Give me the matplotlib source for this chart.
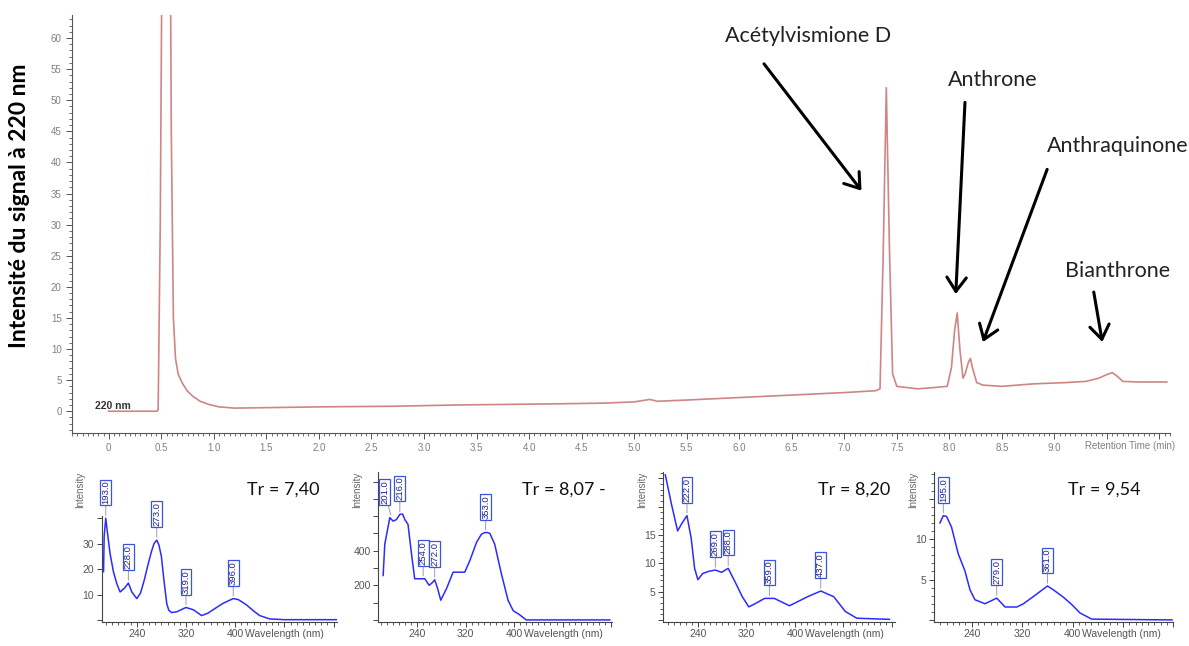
import numpy as np
import matplotlib
matplotlib.use("Agg")
import matplotlib.pyplot as plt
from matplotlib.ticker import MultipleLocator, FixedLocator

plt.rcParams['font.family'] = ['Liberation Sans', 'DejaVu Sans']

# chromatogramme à 220 nm (temps de rétention en min, intensité)
rt = [0.00, 0.46, 0.47, 0.49, 0.52, 0.55, 0.575, 0.595, 0.615, 0.635, 0.66, 0.70, 0.75, 0.80,
      0.87, 0.95, 1.05, 1.20, 1.60, 2.00, 2.70, 3.30, 3.80, 4.30, 4.70, 5.00, 5.15, 5.22, 5.50,
      6.00, 6.50, 7.00, 7.30, 7.34, 7.37, 7.40, 7.43, 7.46, 7.50, 7.60, 7.70, 7.85, 7.98, 8.02,
      8.05, 8.075, 8.10, 8.13, 8.15, 8.18, 8.20, 8.22, 8.26, 8.32, 8.50, 8.80, 9.10, 9.30, 9.42,
      9.50, 9.55, 9.60, 9.65, 9.80, 10.07]
signal = [0.0, 0.0, 0.3, 30, 110, 140, 110, 45, 15, 8.5, 6.0, 4.5, 3.2, 2.4,
          1.6, 1.1, 0.7, 0.5, 0.6, 0.7, 0.8, 1.0, 1.1, 1.2, 1.3, 1.5, 1.9, 1.6, 1.8,
          2.2, 2.6, 3.0, 3.3, 3.6, 25, 52.0, 26, 6.0, 4.0, 3.8, 3.6, 3.8, 4.0, 7.0,
          13.0, 15.8, 10.0, 5.3, 6.0, 7.8, 8.5, 7.0, 4.6, 4.2, 4.0, 4.4, 4.6, 4.8, 5.3,
          5.9, 6.2, 5.6, 4.8, 4.7, 4.7]

# composés annotés : texte, position du texte, départ et pointe de la flèche
noms = ["Acétylvismione D", "Anthrone", "Anthraquinone", "Bianthrone"]
pos_texte = [(6.66, 60.4), (8.41, 53.3), (9.60, 42.7), (9.60, 22.6)]
fleche_depart = [(6.22, 56.2), (8.15, 50.1), (8.94, 39.3), (9.37, 19.6)]
fleche_pointe = [(7.18, 35.1), (8.06, 18.4), (8.31, 10.7), (9.46, 10.7)]

# spectres UV des pics
spec_tr = ["Tr = 7,40", "Tr = 8,07 -", "Tr = 8,20", "Tr = 9,54"]

spec1_wl = [186, 187, 189.6, 193, 196.7, 202, 207.5, 212.9, 220, 226.4, 232, 240, 246, 252, 258,
            264, 268, 272.5, 276, 280, 284, 288.7, 292, 296.8, 305, 312, 320, 332, 345.5, 356,
            364, 380, 396.8, 405, 418, 430, 440, 456, 480, 565]
spec1_int = [19, 33, 40, 33, 26, 19, 14.3, 11.0, 12.5, 14.5, 11, 8.4, 10.5, 15.5, 21.5,
             27, 30, 31.4, 29.5, 25, 16, 6.5, 3.8, 2.9, 3.2, 4.0, 4.9, 4.0, 1.7, 2.7,
             4.0, 6.5, 8.4, 8.0, 6, 3.5, 1.7, 0.4, 0.1, 0.1]
spec1_pics = ["193.0", "228.0", "273.0", "319.0", "396.0"]
spec1_pic_wl = [189.6, 226.4, 272.5, 320, 396.8]
spec1_pic_int = [40, 14.5, 31.4, 4.9, 8.4]

spec2_wl = [184, 186.7, 195, 200.5, 206, 211.5, 216, 219.8, 225, 230.8, 236, 244.5, 252.7, 259.9,
            265, 269, 274, 279, 288.5, 299.4, 318.6, 327, 338, 346, 351.7, 356, 360, 368, 379,
            390, 398.4, 409.5, 420, 558]
spec2_int = [257, 438, 591, 571, 580, 610, 612, 580, 552, 381, 238, 238, 238, 200,
             215, 232, 180, 114, 181, 276, 276, 343, 448, 495, 505, 505, 500, 438, 267,
             114, 54, 29, 0, 0]
spec2_pics = ["201.0", "216.0", "254.0", "272.0", "353.0"]
spec2_pic_wl = [197.8, 211.5, 250, 269, 353]
spec2_pic_int = [591, 610, 238, 232, 505]

spec3_wl = [186.3, 196.7, 206.6, 214, 222, 229, 234.6, 240, 248, 259, 268.8, 279, 290, 302.3,
            313.2, 324, 335, 350, 366, 391, 421, 442.6, 464, 483, 502, 556]
spec3_int = [25.6, 20.3, 15.7, 17.1, 18.4, 14.4, 9.1, 7.1, 8.2, 8.6, 8.8, 8.4, 9.1, 6.5,
             4.1, 2.3, 2.9, 3.8, 3.8, 2.5, 4.1, 5.1, 4.1, 1.5, 0.3, 0.1]
spec3_pics = ["222.0", "269.0", "288.0", "359.0", "437.0"]
spec3_pic_wl = [222, 268.8, 290, 358, 442.6]
spec3_pic_int = [18.4, 8.8, 9.1, 3.8, 5.1]

spec4_wl = [189.5, 194.8, 200, 207.8, 218.4, 229, 237.3, 245, 261, 271.7, 279.6, 292.9, 311.6,
            322, 338, 360.2, 370, 385.6, 398.8, 412, 430.6, 558]
spec4_int = [12.0, 12.9, 12.8, 11.5, 8.2, 6.1, 3.7, 2.5, 2.0, 2.4, 2.7, 1.6, 1.6,
             2.0, 2.9, 4.2, 3.7, 2.8, 1.9, 0.85, 0.1, 0.0]
spec4_pics = ["195.0", "279.0", "361.0"]
spec4_pic_wl = [194.8, 279.6, 360.2]
spec4_pic_int = [12.9, 2.7, 4.2]

W, H = 1189, 646
fig = plt.figure(figsize=(W / 100, H / 100), dpi=100)


def boite(x0, x1, y_haut, y_bas):
    # pixels -> fraction de figure
    return [x0 / W, 1 - y_bas / H, (x1 - x0) / W, (y_bas - y_haut) / H]


gris = '#808080'

# ---------- chromatogramme ----------
ax = fig.add_axes(boite(72, 1170, 15, 433))
ax.plot(rt, signal, color='#d08585', lw=1.2)
ax.set_xlim(-0.35, 10.1)
ax.set_ylim(-3.5, 63.7)
for s in ['top', 'right']:
    ax.spines[s].set_visible(False)
for s in ['left', 'bottom']:
    ax.spines[s].set_color('#555555')
    ax.spines[s].set_linewidth(0.8)

xt = np.arange(0, 10.01, 0.5)
ax.xaxis.set_major_locator(FixedLocator(xt))
ax.set_xticklabels(['0'] + [f"{v:.1f}" if v < 9.1 else '' for v in xt[1:]])
ax.xaxis.set_minor_locator(MultipleLocator(0.05))
ax.yaxis.set_major_locator(FixedLocator(np.arange(0, 61, 5)))
ax.yaxis.set_minor_locator(MultipleLocator(1))
ax.tick_params(which='both', direction='out', colors='#555555', labelcolor=gris, labelsize=7)
ax.tick_params(which='major', length=4, width=0.7)
ax.tick_params(which='minor', length=2.5, width=0.6)
ax.annotate('Retention Time (min)', xy=(9.29, 0), xycoords=('data', 'axes fraction'),
            xytext=(0, -6), textcoords='offset points', ha='left', va='top',
            fontsize=7, color=gris)
ax.text(-0.13, 0.8, '220 nm', fontsize=7.5, fontweight='bold', color='#333333',
        ha='left', va='center')

for nom, pt, dep, pte in zip(noms, pos_texte, fleche_depart, fleche_pointe):
    ax.text(pt[0], pt[1], nom, fontsize=15.5, family='Lato', color='#222222',
            ha='center', va='center', clip_on=False)
    ax.annotate('', xy=pte, xytext=dep,
                arrowprops=dict(arrowstyle='->,head_length=0.5,head_width=0.35',
                                mutation_scale=20, lw=2.2, color='black'),
                annotation_clip=False)

fig.text(20 / W, 1 - 206 / H, 'Intensité du signal à 220 nm', rotation=90,
         fontsize=16.5, fontweight='bold', family='Lato', ha='center', va='center')

# ---------- spectres ----------
spectres = [
    (spec1_wl, spec1_int, spec1_pics, spec1_pic_wl, spec1_pic_int),
    (spec2_wl, spec2_int, spec2_pics, spec2_pic_wl, spec2_pic_int),
    (spec3_wl, spec3_int, spec3_pics, spec3_pic_wl, spec3_pic_int),
    (spec4_wl, spec4_int, spec4_pics, spec4_pic_wl, spec4_pic_int),
]
cadres = [(101.7, 336.7), (378.3, 611.7), (663.3, 895), (934.3, 1173.3)]
xlims = [(183, 565), (176, 561), (183, 565), (180.5, 560)]
ytops = [58.2, 855, 26.1, 18.3]
ymaj = [10, 100, 5, 5]
ymin_loc = [None, None, 1, 1]
ylab = [[10, 20, 30], [200, 400], [5, 10, 15], [5, 10]]
spine_haut = [41, None, None, None]
decal = [[0, 0, 0, 0, 0], [-5, 0, 0, 0, 0], [0, 0, 0, 0, 0], [0, 0, 0]]
tr_pos = [(283, 490), (564, 490), (854, 490), (1104, 490)]

for i, (wl, inten, pics, pwl, pint) in enumerate(spectres):
    x0, x1 = cadres[i]
    sa = fig.add_axes(boite(x0, x1, 472, 621.7))
    sa.plot(wl, inten, color='#2b2bff', lw=1.1)
    sa.set_xlim(*xlims[i])
    top = ytops[i]
    sa.set_ylim(-0.012 * top, top)
    for s in ['top', 'right']:
        sa.spines[s].set_visible(False)
    for s in ['left', 'bottom']:
        sa.spines[s].set_color('#444444')
        sa.spines[s].set_linewidth(0.8)
    if spine_haut[i] is not None:
        sa.spines['left'].set_bounds(-0.012 * top, spine_haut[i])
        yt = np.arange(0, spine_haut[i] + 0.1, ymaj[i])
    else:
        yt = np.arange(0, top, ymaj[i])
    sa.yaxis.set_major_locator(FixedLocator(yt))
    sa.set_yticklabels([str(int(v)) if int(v) in ylab[i] else '' for v in yt])
    if ymin_loc[i]:
        sa.yaxis.set_minor_locator(MultipleLocator(ymin_loc[i]))
    xt = [160, 240, 320, 400, 480, 560]
    sa.xaxis.set_major_locator(FixedLocator(xt))
    sa.set_xticklabels(['', '240', '320', '400', '', ''])
    sa.xaxis.set_minor_locator(MultipleLocator(10))
    sa.tick_params(which='both', direction='out', colors='#444444', labelcolor='#555555',
                   labelsize=7.5, pad=2)
    sa.tick_params(which='major', length=3.5, width=0.7)
    sa.tick_params(which='minor', length=2, width=0.6)
    sa.annotate('Wavelength (nm)', xy=(400, 0), xycoords=('data', 'axes fraction'),
                xytext=(7, -5.5), textcoords='offset points', ha='left', va='top',
                fontsize=7.5, color='#555555')
    sa.text(-0.09, 1.0, 'Intensity', transform=sa.transAxes, rotation=90,
            ha='center', va='top', fontsize=7, color='#666666')
    for lbl, px_, py_, dx in zip(pics, pwl, pint, decal[i]):
        sa.annotate(lbl, xy=(px_, py_), xytext=(dx, 10), textcoords='offset points',
                    rotation=90, ha='center', va='bottom', fontsize=6.8, color='#22228a',
                    bbox=dict(boxstyle='square,pad=0.1', fc='white', ec='#3a55dd', lw=0.9),
                    arrowprops=dict(arrowstyle='-', color='#9a9ab8', lw=0.7,
                                    shrinkA=0, shrinkB=2),
                    annotation_clip=False)
    fig.text(tr_pos[i][0] / W, 1 - tr_pos[i][1] / H, spec_tr[i], fontsize=13,
             family='Lato', ha='center', va='center', color='#111111')

fig.savefig('out.png', dpi=100)
